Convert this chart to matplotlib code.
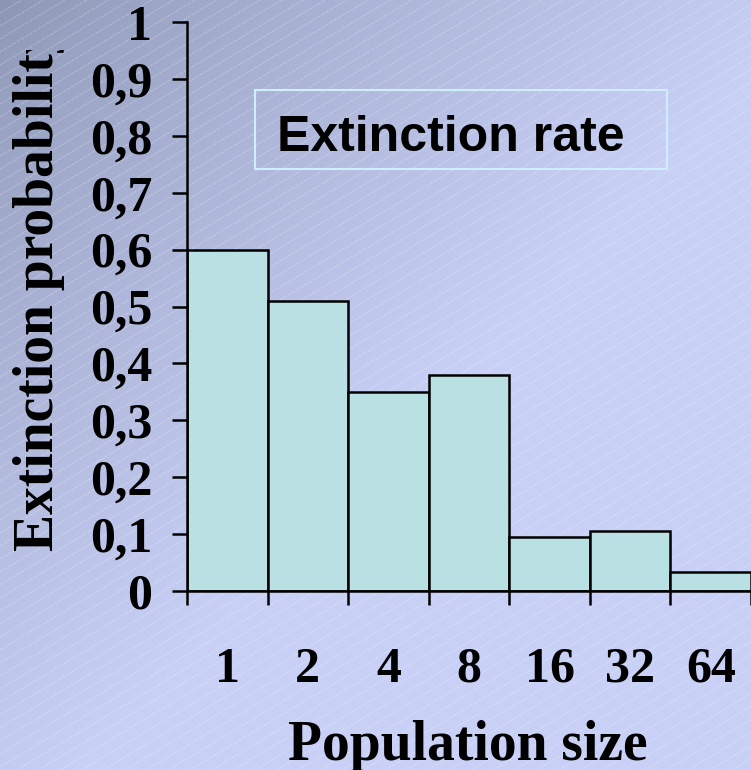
import numpy as np
import matplotlib
matplotlib.use("Agg")
import matplotlib.pyplot as plt
from matplotlib.patches import Rectangle
from matplotlib.transforms import Bbox

# extinction probability per population size
sizes = ["1", "2", "4", "8", "16", "32", "64"]
extinction = [0.60, 0.51, 0.35, 0.38, 0.095, 0.105, 0.033]
yticks = [0, 0.1, 0.2, 0.3, 0.4, 0.5, 0.6, 0.7, 0.8, 0.9, 1]
yticklabels = ["0", "0,1", "0,2", "0,3", "0,4", "0,5", "0,6", "0,7", "0,8", "0,9", "1"]

W, H = 751, 770
fig = plt.figure(figsize=(W / 100, H / 100), dpi=100)

# slide-style background: diagonal gradient plus faint white hatching
bg = fig.add_axes([0, 0, 1, 1], zorder=-1)
bg.set_xlim(0, W)
bg.set_ylim(H, 0)
bg.axis("off")
xx, yy = np.meshgrid(np.linspace(0, 1, 200), np.linspace(0, 1, 200))
t = np.clip((xx + yy) / 1.1, 0, 1) ** 0.8
dark = np.array([0x8c, 0x96, 0xb4]) / 255
light = np.array([0xc8, 0xd0, 0xf6]) / 255
img = dark + (light - dark) * t[..., None]
bg.imshow(img, extent=[0, W, H, 0], aspect="auto")
for c in np.arange(0, W * 0.6 + H + 20, 13):
    bg.plot([0, W], [c, c - 0.6 * W], color="white", alpha=0.25, lw=0.7,
            linestyle=(0, (4, 1)))

ax = fig.add_axes([187 / W, (H - 591) / H, (W - 187) / W, (591 - 22) / H])
ax.set_facecolor("none")
ax.bar(np.arange(len(sizes)) + 0.5, extinction, width=1.0,
       color="#b9e0e2", edgecolor="black", linewidth=1.8)
ax.set_xlim(0, len(sizes))
ax.set_ylim(0, 1)

for s in ["top", "right"]:
    ax.spines[s].set_visible(False)
for s in ["left", "bottom"]:
    ax.spines[s].set_linewidth(1.8)

serif = dict(family="Liberation Serif", weight="bold", size=36)
ax.set_yticks(yticks)
ax.set_yticklabels(yticklabels, fontdict=serif)
ax.tick_params(axis="y", direction="out", length=11, width=1.8, pad=14)

ax.set_xticks(np.arange(len(sizes) + 1))
ax.set_xticklabels([])
ax.tick_params(axis="x", which="major", direction="out", length=10, width=1.8)
ax.set_xticks(np.arange(len(sizes)) + 0.5, minor=True)
ax.set_xticklabels(sizes, minor=True, fontdict=serif)
ax.tick_params(axis="x", which="minor", length=0, pad=40)

fig.text(468 / W, (H - 760) / H, "Population size", ha="center", va="baseline",
         family="Liberation Serif", weight="bold", size=40)

ylab = fig.text(53 / W, (H - 551) / H, "Extinction probability", rotation=90,
                rotation_mode="anchor", ha="left", va="baseline",
                family="Liberation Serif", weight="bold", size=40)
ylab.set_clip_box(Bbox([[0, 0], [W, H - 50]]))
ylab.set_clip_on(True)

fig.patches.append(Rectangle((255 / W, (H - 169) / H), (667 - 255) / W, (169 - 90) / H,
                             transform=fig.transFigure, fill=False,
                             edgecolor="#cdeefa", linewidth=1.5))
fig.text(277 / W, (H - 151) / H, "Extinction rate", ha="left", va="baseline",
         family="Liberation Sans", weight="bold", size=36)

fig.savefig("out.png", dpi=100)
